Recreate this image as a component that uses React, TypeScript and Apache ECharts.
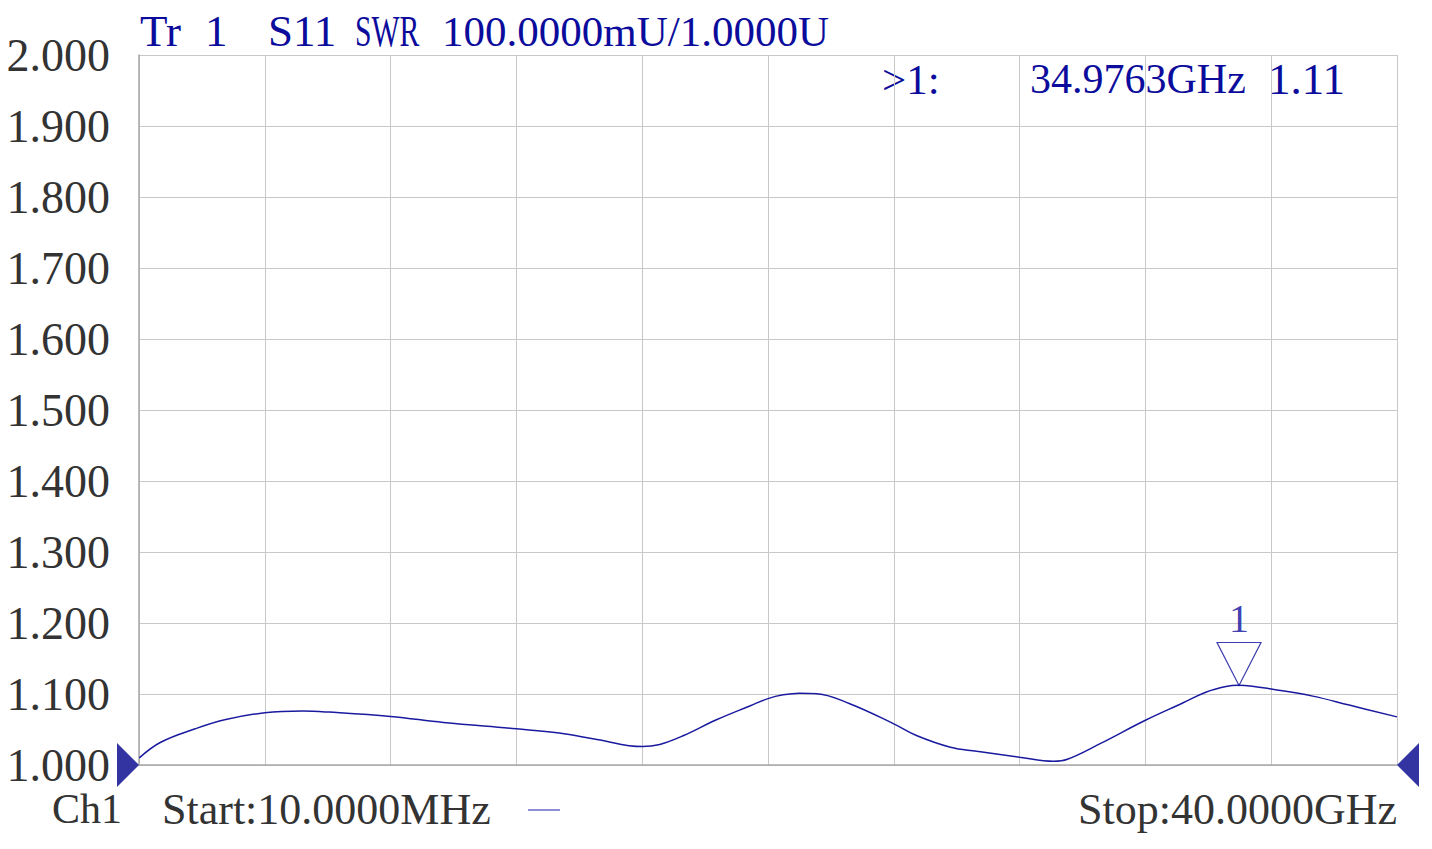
import React, { useEffect, useRef } from "react";
import * as echarts from "echarts";

const freqGHz = [0.01, 0.69, 1.79, 2.76, 4.0, 5.2, 6.04, 8.0, 9.68, 12.0, 13.36, 14.56, 16.0, 16.56, 17.32, 18.36, 19.44, 20.0, 20.48, 21.0, 21.56, 22.6, 24.0, 24.72, 25.8, 26.64, 28.0, 29.08, 29.52, 30.56, 32.0, 33.2, 33.92, 34.56, 34.96, 35.4, 36.0, 37.32, 38.48, 40.0];
const swr = [1.010, 1.032, 1.051, 1.064, 1.0736, 1.076, 1.0745, 1.0684, 1.060, 1.051, 1.045, 1.036, 1.026, 1.029, 1.0415, 1.0637, 1.0835, 1.0935, 1.0988, 1.1012, 1.1005, 1.0863, 1.058, 1.0415, 1.025, 1.0193, 1.011, 1.0052, 1.008, 1.030, 1.063, 1.0876, 1.1025, 1.1105, 1.1123, 1.111, 1.107, 1.097, 1.0844, 1.0678];

const markerFreqGHz = 34.9763;
const markerSwr = 1.112;
const markerName = "1";
const refLevel = 1.0;

const titleParts = ["Tr", "1", "S11", "SWR", "100.0000mU/1.0000U"];
const startLabel = "Start:10.0000MHz";
const stopLabel = "Stop:40.0000GHz";
const channelLabel = "Ch1";

const FONT = "'Liberation Serif', serif";
const BLUE = "#0c0c9c";
const GRAY = "#333333";

const txt = (text: string, x: number, y: number, size: number, fill: string, align = "left", scaleX = 1) => ({
  type: "text",
  x,
  y,
  scaleX,
  style: { text, font: `${size}px ${FONT}`, fill, align, verticalAlign: "middle" },
});

export default function App() {
  const ref = useRef<HTMLDivElement>(null);
  useEffect(() => {
    if (!ref.current) return;
    const chart = echarts.init(ref.current, undefined, { renderer: "svg" });
    const lineData = freqGHz.map((f, i) => [f, swr[i]]);
    chart.setOption({
      animation: false,
      backgroundColor: "#ffffff",
      grid: { left: 139, right: 35, top: 55, bottom: 84, containLabel: false },
      xAxis: {
        type: "value",
        min: 0,
        max: 40,
        interval: 4,
        axisLabel: { show: false },
        axisTick: { show: false },
        axisLine: { show: true, lineStyle: { color: "#a8a8a8", width: 1.5 } },
        splitLine: { show: true, lineStyle: { color: "#c8c8c8", width: 1 } },
      },
      yAxis: {
        type: "value",
        min: 1,
        max: 2,
        interval: 0.1,
        axisLabel: {
          formatter: (v: number) => v.toFixed(3),
          fontFamily: FONT,
          fontSize: 46,
          color: GRAY,
          margin: 29,
        },
        axisTick: { show: false },
        axisLine: { show: true, lineStyle: { color: "#a8a8a8", width: 1.5 } },
        splitLine: { show: true, lineStyle: { color: "#c8c8c8", width: 1 } },
      },
      series: [
        {
          type: "line",
          data: lineData,
          showSymbol: false,
          smooth: 0.4,
          lineStyle: { color: "#1a1aa0", width: 1.5 },
          z: 3,
        },
        {
          type: "scatter",
          data: [[markerFreqGHz, markerSwr]],
          symbol: "path://M0,0L44,0L22,43Z",
          symbolSize: [44, 43],
          symbolOffset: [0, "-50%"],
          clip: false,
          itemStyle: { color: "rgba(255,255,255,0)", borderColor: BLUE, borderWidth: 1.2 },
          label: {
            show: true,
            formatter: markerName,
            position: "top",
            distance: 3,
            fontFamily: FONT,
            fontSize: 40,
            color: BLUE,
          },
          z: 4,
        },
        {
          type: "scatter",
          data: [[0, refLevel]],
          symbol: "path://M0,0L22,22L0,44Z",
          symbolSize: [22, 44],
          symbolOffset: [-11, 0],
          clip: false,
          itemStyle: { color: "#00008b" },
          z: 5,
        },
        {
          type: "scatter",
          data: [[40, refLevel]],
          symbol: "path://M22,0L0,22L22,44Z",
          symbolSize: [22, 44],
          symbolOffset: [11, 0],
          clip: false,
          itemStyle: { color: "#00008b" },
          z: 5,
        },
      ],
      graphic: [
        txt(titleParts[0], 140, 31, 45, BLUE),
        txt(titleParts[1], 205, 31, 45, BLUE),
        txt(titleParts[2], 268, 31, 45, BLUE),
        txt(titleParts[3], 355, 31, 45, BLUE, "left", 0.66),
        txt(titleParts[4], 442, 31, 43, BLUE),
        txt(">" + markerName + ":", 882, 79, 43, BLUE),
        txt(markerFreqGHz.toFixed(4) + "GHz", 1030, 79, 42, BLUE),
        txt(markerSwr.toFixed(2), 1268, 79, 45, BLUE),
        txt(channelLabel, 52, 809, 42, GRAY),
        txt(startLabel, 162, 809, 44, GRAY),
        { type: "line", shape: { x1: 528, y1: 810, x2: 560, y2: 810 }, style: { stroke: "#6a6ac8", lineWidth: 1.5 } },
        txt(stopLabel, 1397, 809, 44, GRAY, "right"),
      ],
    });
    return () => chart.dispose();
  }, []);
  return (
    <div
      ref={ref}
      style={{ position: "fixed", left: 0, top: 0, width: 1432, height: 849, background: "#fff" }}
    />
  );
}
